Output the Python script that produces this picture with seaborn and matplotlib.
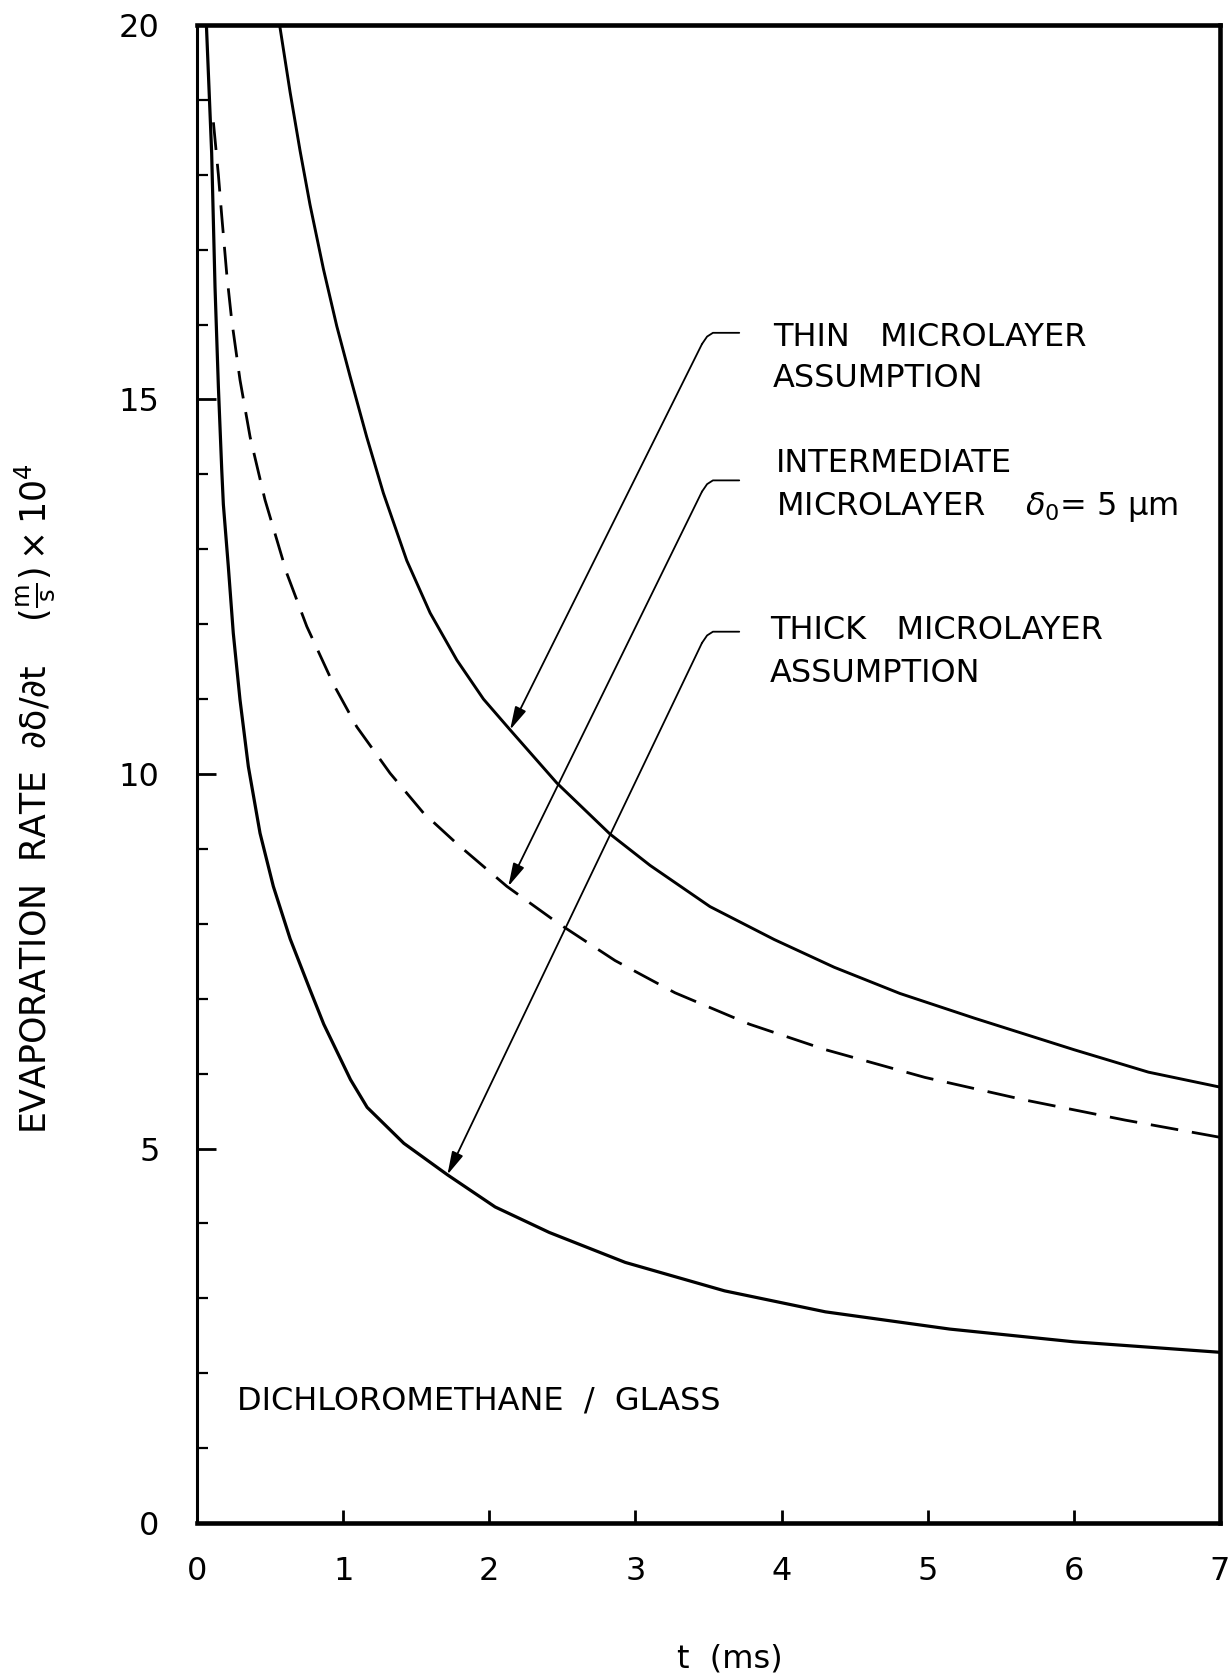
import matplotlib
matplotlib.use("Agg")
import matplotlib.pyplot as plt
import seaborn as sns
import pandas as pd
from matplotlib.ticker import MultipleLocator

# ---------------- data ----------------
thin_t = [0.565, 0.637, 0.705, 0.773, 0.865, 0.956, 1.047, 1.161, 1.275, 1.435, 1.595,
          1.778, 1.96, 2.142, 2.462, 2.825, 3.1, 3.51, 3.95, 4.36, 4.81, 5.32, 6.0, 6.51, 7.0]
thin_v = [20.0, 19.1, 18.32, 17.6, 16.74, 15.98, 15.31, 14.5, 13.75, 12.85, 12.15,
          11.52, 11.0, 10.59, 9.88, 9.2, 8.78, 8.23, 7.79, 7.42, 7.07, 6.74, 6.32, 6.02, 5.82]

inter_t = [0.112, 0.146, 0.169, 0.203, 0.237, 0.294, 0.363, 0.443, 0.465, 0.614, 0.751,
           0.933, 1.093, 1.321, 1.549, 1.778, 2.12, 2.462, 2.86, 3.27, 3.78, 4.3, 4.98,
           5.66, 6.35, 7.0]
inter_v = [18.7, 18.0, 17.45, 16.68, 16.06, 15.26, 14.5, 13.84, 13.66, 12.68, 11.97,
           11.2, 10.63, 10.01, 9.48, 9.07, 8.50, 8.02, 7.51, 7.08, 6.66, 6.32, 5.95,
           5.65, 5.38, 5.15]

thick_t = [0.064, 0.1, 0.123, 0.146, 0.169, 0.18, 0.214, 0.248, 0.294, 0.351, 0.431,
           0.522, 0.637, 0.773, 0.867, 1.05, 1.164, 1.415, 1.713, 2.04, 2.41, 2.93,
           3.61, 4.3, 5.15, 6.0, 7.0]
thick_v = [20.0, 18.29, 16.5, 15.17, 14.06, 13.6, 12.77, 11.88, 10.99, 10.10, 9.21,
           8.50, 7.80, 7.12, 6.66, 5.92, 5.55, 5.07, 4.65, 4.22, 3.88, 3.48,
           3.10, 2.82, 2.59, 2.42, 2.28]

x_ticks = [0, 1, 2, 3, 4, 5, 6, 7]
y_ticks = [0, 5, 10, 15, 20]

labels_line1 = ['THIN   MICROLAYER', 'INTERMEDIATE', 'THICK   MICROLAYER']
labels_line2 = ['ASSUMPTION', r'MICROLAYER    $\delta_0$= 5 μm', 'ASSUMPTION']
label_x = [3.94, 3.96, 3.92]
label_y1 = [15.83, 14.14, 11.91]
label_y2 = [15.28, 13.57, 11.34]
leader_y = [15.89, 13.92, 11.90]
tip_t = [2.142, 2.13, 1.713]
tip_v = [10.59, 8.50, 4.65]

# ---------------- style ----------------
sns.set_theme(style="white")
plt.rcParams['font.family'] = ['DejaVu Sans']
plt.rcParams['mathtext.fontset'] = 'dejavusans'

fig = plt.figure(figsize=(12.3, 16.75), dpi=100)
ax = fig.add_axes([0.1602, 0.0907, 0.8317, 0.8944])

df_thin = pd.DataFrame({'t': thin_t, 'v': thin_v})
df_inter = pd.DataFrame({'t': inter_t, 'v': inter_v})
df_thick = pd.DataFrame({'t': thick_t, 'v': thick_v})

sns.lineplot(data=df_thin, x='t', y='v', ax=ax, color='black', lw=2.1,
             sort=False, estimator=None)
sns.lineplot(data=df_inter, x='t', y='v', ax=ax, color='black', lw=2.0,
             linestyle=(0, (10, 5)), sort=False, estimator=None)
sns.lineplot(data=df_thick, x='t', y='v', ax=ax, color='black', lw=2.3,
             sort=False, estimator=None)

ax.set_xlim(0, 7)
ax.set_ylim(0, 20)
ax.set_xticks(x_ticks)
ax.set_xticklabels([str(v) for v in x_ticks])
ax.set_yticks(y_ticks)
ax.set_yticklabels([str(v) for v in y_ticks])
ax.yaxis.set_minor_locator(MultipleLocator(1))

ax.tick_params(axis='x', which='major', direction='in', length=9.5, width=2,
               pad=24, labelsize=23, top=False, bottom=True, colors='black')
ax.tick_params(axis='y', which='major', direction='in', length=14, width=2,
               pad=27, labelsize=23, right=False, left=True, colors='black')
ax.tick_params(axis='y', which='minor', direction='in', length=8, width=1.6,
               right=False, left=True, colors='black')

for name, sp in ax.spines.items():
    sp.set_color('black')
    sp.set_linewidth(2.2 if name == 'left' else 3.3)

ax.set_xlabel('t  (ms)', fontsize=23, color='black')
ax.xaxis.set_label_coords(0.521, -0.091)
ax.xaxis.label.set_va('center')

ax.set_ylabel(r'EVAPORATION  RATE  $\mathrm{\partial\delta/\partial t}$    '
              r'$(\frac{\mathrm{m}}{\mathrm{s}})\times10^{4}$', fontsize=25, color='black')
ax.yaxis.set_label_coords(-0.158, 0.4833)
ax.yaxis.label.set_va('center')
ax.yaxis.label.set_ha('center')

# annotations
for i in range(3):
    ax.text(label_x[i], label_y1[i], labels_line1[i], fontsize=23,
            ha='left', va='center', color='black')
    ax.text(label_x[i], label_y2[i], labels_line2[i], fontsize=23,
            ha='left', va='center', color='black')
    y = leader_y[i]
    ax.plot([3.71, 3.53, 3.49, 3.455], [y, y, y - 0.05, y - 0.15],
            color='black', lw=1.3, solid_capstyle='round')
    ax.annotate('', xy=(tip_t[i], tip_v[i]), xytext=(3.455, y - 0.15),
                arrowprops=dict(arrowstyle='-|>,head_length=0.7,head_width=0.18',
                                color='black', lw=1.3, shrinkA=0, shrinkB=0,
                                mutation_scale=20))

ax.text(0.272, 1.63, 'DICHLOROMETHANE  /  GLASS', fontsize=23,
        ha='left', va='center', color='black')

fig.savefig('out.png', dpi=100, facecolor='white')
